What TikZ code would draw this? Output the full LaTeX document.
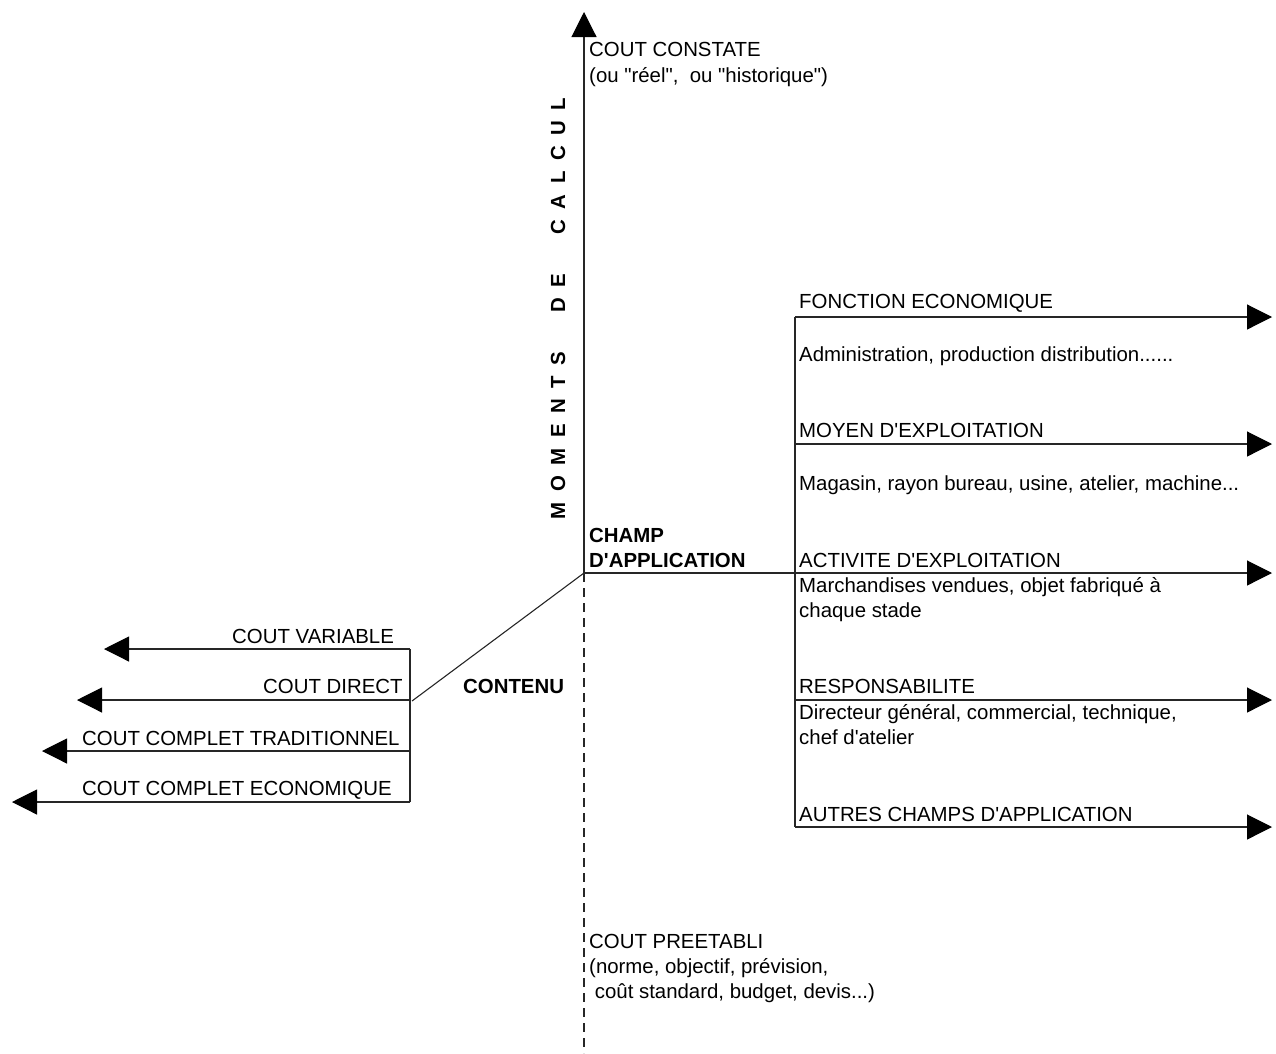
\documentclass[tikz,border=0pt]{standalone}
\usepackage{fontspec}
\newfontfamily\af{Liberation Sans}
\usetikzlibrary{arrows.meta}
\newcommand{\lsp}{\hspace{10.6pt}}
\newcommand{\wsp}{\hspace{39pt}}
\tikzset{
  lbl/.style={font=\af\fontsize{20.4}{25}\selectfont, inner sep=0pt, anchor=base west},
  blbl/.style={lbl, font=\af\bfseries\fontsize{20.4}{25}\selectfont},
  ln/.style={line width=1.1pt, draw=black!85},
  arr/.style={ln, -{Triangle[length=25pt,width=25pt,color=black,fill=black]}},
}
\begin{document}
\begin{tikzpicture}[x=1pt,y=-1pt]
\useasboundingbox (0,0) rectangle (1276,1053);
% coordinates
\coordinate (O) at (584,573);
\coordinate (top) at (584,12);
\coordinate (bot) at (584,1053);
\coordinate (rb1) at (795,317);
\coordinate (rb2) at (795,444);
\coordinate (rb4) at (795,700);
\coordinate (rb5) at (795,827);
\coordinate (re1) at (1272,317);
\coordinate (re2) at (1272,444);
\coordinate (re3) at (1272,573);
\coordinate (re4) at (1272,700);
\coordinate (re5) at (1272,827);
\coordinate (lb1) at (410,649);
\coordinate (lb2) at (410,700);
\coordinate (lb3) at (410,751);
\coordinate (lb4) at (410,802);
\coordinate (le1) at (104,649);
\coordinate (le2) at (77,700);
\coordinate (le3) at (42,751);
\coordinate (le4) at (12,802);
\coordinate (dg) at (412,701);

% axes
\draw[arr] (O) -- (top);
\draw[ln, dash pattern=on 9pt off 6pt] (O) -- (bot);
\draw[arr] (O) -- (re3);
\draw[ln] (O) -- (dg);

% right bracket and arrows
\draw[ln] (rb1) -- (rb5);
\draw[arr] (rb1) -- (re1);
\draw[arr] (rb2) -- (re2);
\draw[arr] (rb4) -- (re4);
\draw[arr] (rb5) -- (re5);

% left bracket and arrows
\draw[ln] (lb1) -- (lb4);
\draw[arr] (lb1) -- (le1);
\draw[arr] (lb2) -- (le2);
\draw[arr] (lb3) -- (le3);
\draw[arr] (lb4) -- (le4);

% vertical title
\node[font=\af\bfseries\fontsize{20.4}{25}\selectfont, inner sep=0pt, rotate=90] (mc) at (558,308.5)
  {M\lsp O\lsp M\lsp E\lsp N\lsp T\lsp S\wsp D\lsp E\wsp C\lsp A\lsp L\lsp C\lsp U\lsp L};

% top labels
\node[lbl] (cc1) at (589,56) {COUT CONSTATE};
\node[lbl] (cc2) at (589,82) {(ou "réel",\ \ ou "historique")};

% centre labels
\node[blbl] (ch1) at (589,542) {CHAMP};
\node[blbl] (ch2) at (589,567) {D'APPLICATION};
\node[blbl] (cont) at (463,693) {CONTENU};

% right labels
\node[lbl] (r1) at (799,308) {FONCTION ECONOMIQUE};
\node[lbl] (r1a) at (799,361) {Administration, production distribution......};
\node[lbl] (r2) at (799,437) {MOYEN D'EXPLOITATION};
\node[lbl] (r2a) at (799,490) {Magasin, rayon bureau, usine, atelier, machine...};
\node[lbl] (r3) at (799,567) {ACTIVITE D'EXPLOITATION};
\node[lbl] (r3a) at (799,592) {Marchandises vendues, objet fabriqué à};
\node[lbl] (r3b) at (799,617) {chaque stade};
\node[lbl] (r4) at (799,693) {RESPONSABILITE};
\node[lbl] (r4a) at (799,719) {Directeur général, commercial, technique,};
\node[lbl] (r4b) at (799,744) {chef d'atelier};
\node[lbl] (r5) at (799,821) {AUTRES CHAMPS D'APPLICATION};

% left labels
\node[lbl] (l1) at (232,643) {COUT VARIABLE};
\node[lbl] (l2) at (263,693) {COUT DIRECT};
\node[lbl] (l3) at (82,745) {COUT COMPLET TRADITIONNEL};
\node[lbl] (l4) at (82,795) {COUT COMPLET ECONOMIQUE};

% bottom labels
\node[lbl] (p1) at (589,948) {COUT PREETABLI};
\node[lbl] (p2) at (589,973) {(norme, objectif, prévision,};
\node[lbl] (p3) at (589,998) {\ coût standard, budget, devis...)};
\end{tikzpicture}
\end{document}
